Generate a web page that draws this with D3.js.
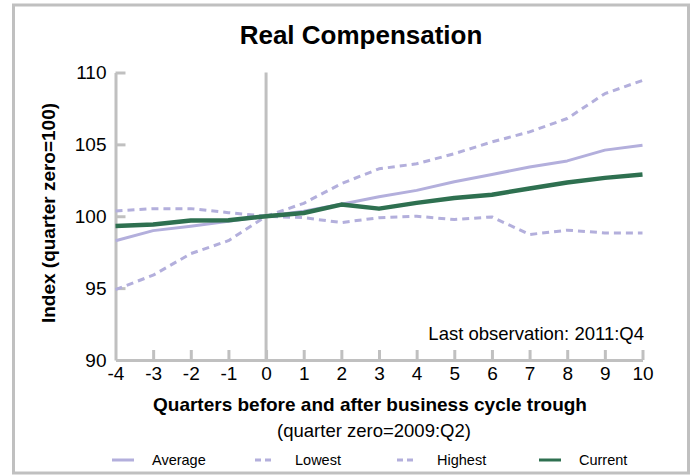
<!DOCTYPE html>
<html><head><meta charset="utf-8">
<script src="https://cdn.jsdelivr.net/npm/d3@7"></script>
<style>body{margin:0;background:#fff;} svg{display:block;font-family:"Liberation Sans",Arial,sans-serif;}</style>
</head><body>
<svg id="c" width="692" height="476"></svg>
<script>
const quarters = [-4,-3,-2,-1,0,1,2,3,4,5,6,7,8,9,10];
const average = [98.3,99.0,99.3,99.65,100,100.35,100.83,101.35,101.8,102.4,102.9,103.43,103.85,104.6,104.94];
const lowest  = [100.37,100.53,100.53,100.25,100,99.9,99.56,99.9,100.0,99.77,99.95,98.73,99.03,98.84,98.84];
const highest = [94.9,95.9,97.4,98.3,100,100.9,102.27,103.3,103.65,104.35,105.17,105.87,106.8,108.53,109.45];
const current = [99.33,99.42,99.7,99.72,100,100.23,100.81,100.53,100.93,101.27,101.5,101.93,102.35,102.67,102.9];
const yTicks = [90,95,100,105,110];
const seriesNames = ["Average","Lowest","Highest","Current"];

const purple = "#b3afdc", green = "#2e7050", grey = "#c0c0c0";
const svg = d3.select("#c");
svg.append("rect").attr("x",13.5).attr("y",5).attr("width",675).attr("height",468)
  .attr("fill","none").attr("stroke",grey).attr("stroke-width",3);

const x = d3.scaleLinear().domain([-4,10]).range([115.5,642.5]);
const y = d3.scaleLinear().domain([90,110]).range([360,72.5]);

// axes
const ya = svg.append("g").attr("transform",`translate(${x(-4)},0)`)
  .call(d3.axisLeft(y).tickValues(yTicks).tickFormat(d=>String(d)).tickSizeInner(-10).tickSizeOuter(0).tickPadding(9));
const xa = svg.append("g").attr("transform",`translate(0,${y(90)})`)
  .call(d3.axisBottom(x).tickValues(quarters).tickFormat(d=>String(d)).tickSizeInner(-10).tickSizeOuter(0).tickPadding(7));
[ya,xa].forEach(g=>{
  g.select(".domain").attr("stroke",grey).attr("stroke-width",3);
  g.selectAll(".tick line").attr("stroke",grey).attr("stroke-width",3);
  g.selectAll(".tick text").attr("fill","#000").style("font-size","19px").style("font-family",'"Liberation Sans",Arial,sans-serif');
});
xa.selectAll(".tick").filter(d=>d===-4).select("line").remove();
ya.selectAll(".tick").filter(d=>d===90).select("line").remove();
// zero line
svg.append("line").attr("x1",x(0)).attr("x2",x(0)).attr("y1",y(110)).attr("y2",y(90))
  .attr("stroke",grey).attr("stroke-width",3);

const line = d3.line().x((d,i)=>x(quarters[i])).y(d=>y(d));
const styles = [
  {data:average,color:purple,w:3,dash:null},
  {data:lowest,color:purple,w:3,dash:"7,5"},
  {data:highest,color:purple,w:3,dash:"7,5"},
  {data:current,color:green,w:4.5,dash:null}
];
styles.forEach(s=>{
  svg.append("path").attr("d",line(s.data)).attr("fill","none").attr("stroke",s.color)
    .attr("stroke-width",s.w).attr("stroke-dasharray",s.dash).attr("stroke-linejoin","round");
});

svg.append("text").attr("x",361).attr("y",44).attr("text-anchor","middle")
  .style("font-size","26px").style("font-weight","bold").text("Real Compensation");
svg.append("text").attr("transform","translate(55,213) rotate(-90)").attr("text-anchor","middle")
  .style("font-size","19px").style("font-weight","bold").text("Index (quarter zero=100)");
svg.append("text").attr("x",370).attr("y",411).attr("text-anchor","middle")
  .style("font-size","19px").style("font-weight","bold").text("Quarters before and after business cycle trough");
svg.append("text").attr("x",374).attr("y",437).attr("text-anchor","middle")
  .style("font-size","18.5px").text("(quarter zero=2009:Q2)");
svg.append("text").attr("x",644).attr("y",340).attr("text-anchor","end")
  .style("font-size","18.5px").text("Last observation: 2011:Q4");

// legend
const lx = [112,255,397,539];
styles.forEach((s,i)=>{
  svg.append("line").attr("x1",lx[i]).attr("x2",lx[i]+(s.dash?17:22)).attr("y1",460).attr("y2",460)
    .attr("stroke",s.color).attr("stroke-width",3).attr("stroke-dasharray",s.dash?"6,4":null);
  svg.append("text").attr("x",lx[i]+40).attr("y",465).style("font-size","14.5px").text(seriesNames[i]);
});
</script>
</body></html>
